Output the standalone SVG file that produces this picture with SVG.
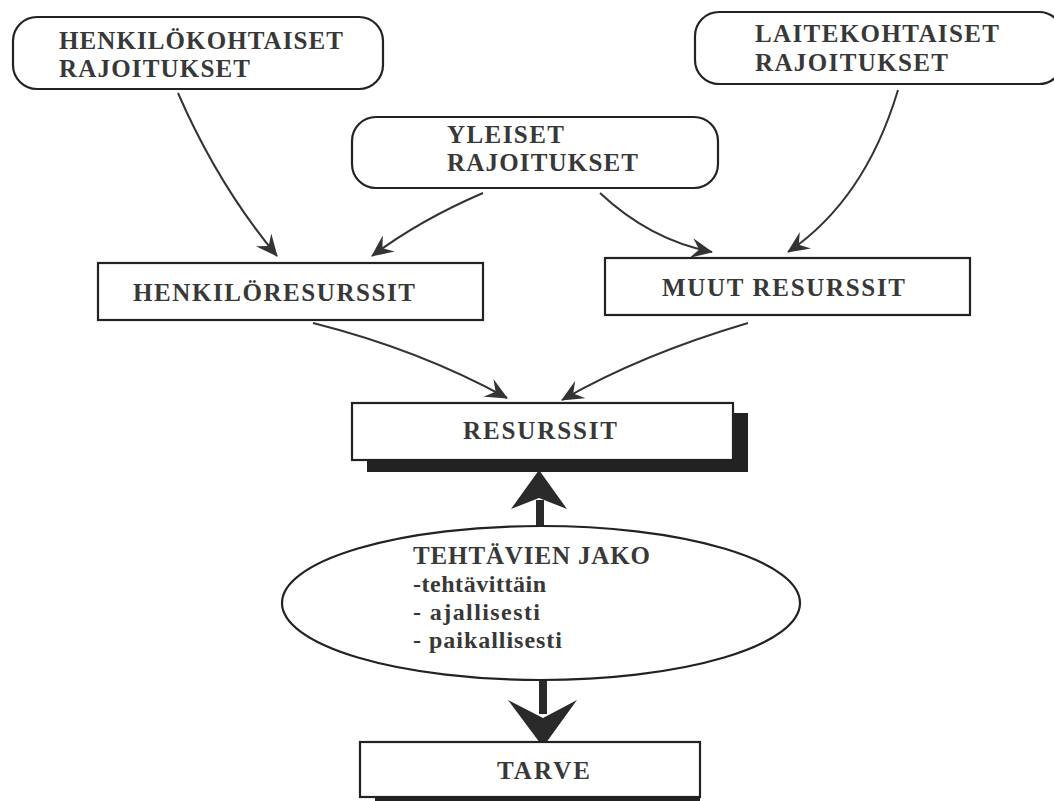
<svg xmlns="http://www.w3.org/2000/svg" width="1054" height="801" viewBox="0 0 1054 801">
<defs>
<style>
.box{fill:#fff;stroke:#222;stroke-width:2.2}
.shadow{fill:#222}
.t{font-family:"Liberation Serif","Times New Roman",serif;font-weight:bold;font-size:25px;fill:#383838}
.s{font-family:"Liberation Serif","Times New Roman",serif;font-weight:bold;font-size:24px;fill:#383838}
.c{fill:none;stroke:#333;stroke-width:2}
.big{fill:#2a2a2a}
</style>
<marker id="ah" viewBox="0 0 22 20" refX="21" refY="10" markerWidth="22" markerHeight="20" markerUnits="userSpaceOnUse" orient="auto">
<path d="M0,0 L22,10 L0,20 L8,10 Z" fill="#333"/>
</marker>
</defs>
<rect width="1054" height="801" fill="#fff"/>
<g id="connectors">
<path class="c" d="M178,93 Q218,185 277,256" marker-end="url(#ah)"/>
<path class="c" d="M483,193 Q420,220 372,256" marker-end="url(#ah)"/>
<path class="c" d="M600,193 Q650,240 712,252" marker-end="url(#ah)"/>
<path class="c" d="M898,90 Q865,200 788,252" marker-end="url(#ah)"/>
<path class="c" d="M313,323 Q420,350 507,398" marker-end="url(#ah)"/>
<path class="c" d="M748,323 Q640,355 562,400" marker-end="url(#ah)"/>
<g id="arrow-up">
<rect class="big" x="536" y="500" width="8" height="28"/>
<polygon class="big" points="539,470 567,509 539,498 511,509"/>
</g>
<g id="arrow-down">
<rect class="big" x="539" y="680" width="8" height="34"/>
<polygon class="big" points="543,747 577,700 543,718 508,700"/>
</g>
</g>
<g id="henkilokohtaiset">
<rect class="box" x="13" y="17" width="370" height="72" rx="24"/>
<text class="t" x="59" y="49" textLength="284" lengthAdjust="spacing">HENKILÖKOHTAISET</text>
<text class="t" x="59" y="77" textLength="191" lengthAdjust="spacing">RAJOITUKSET</text>
</g>
<g id="laitekohtaiset">
<rect class="box" x="695" y="12" width="368" height="72" rx="24"/>
<text class="t" x="755" y="42" textLength="244" lengthAdjust="spacing">LAITEKOHTAISET</text>
<text class="t" x="755" y="71" textLength="193" lengthAdjust="spacing">RAJOITUKSET</text>
</g>
<g id="yleiset">
<rect class="box" x="352" y="117" width="366" height="71" rx="24"/>
<text class="t" x="447" y="143" textLength="117" lengthAdjust="spacing">YLEISET</text>
<text class="t" x="447" y="171" textLength="191" lengthAdjust="spacing">RAJOITUKSET</text>
</g>
<g id="henkiloresurssit">
<rect class="box" x="98" y="263" width="385" height="57"/>
<text class="t" x="133" y="301" textLength="282" lengthAdjust="spacing">HENKILÖRESURSSIT</text>
</g>
<g id="muut">
<rect class="box" x="605" y="258" width="365" height="57"/>
<text class="t" x="662" y="296" textLength="243" lengthAdjust="spacing">MUUT RESURSSIT</text>
</g>
<g id="resurssit">
<rect class="shadow" x="367" y="413" width="381" height="59"/>
<rect class="box" x="352" y="403" width="381" height="57"/>
<text class="t" x="463" y="439" textLength="154" lengthAdjust="spacing">RESURSSIT</text>
</g>
<g id="tehtavien-jako">
<ellipse class="box" cx="541" cy="603" rx="259" ry="77"/>
<text class="t" x="413" y="564" textLength="237" lengthAdjust="spacing">TEHTÄVIEN JAKO</text>
<text class="s" x="413" y="592" textLength="133" lengthAdjust="spacing">-tehtävittäin</text>
<text class="s" x="413" y="620" textLength="127" lengthAdjust="spacing">- ajallisesti</text>
<text class="s" x="413" y="648" textLength="149" lengthAdjust="spacing">- paikallisesti</text>
</g>
<g id="tarve">
<rect class="shadow" x="375" y="760" width="325" height="45"/>
<rect class="box" x="360" y="742" width="340" height="55"/>
<text class="t" x="497" y="779" textLength="93" lengthAdjust="spacing">TARVE</text>
</g>
</svg>
